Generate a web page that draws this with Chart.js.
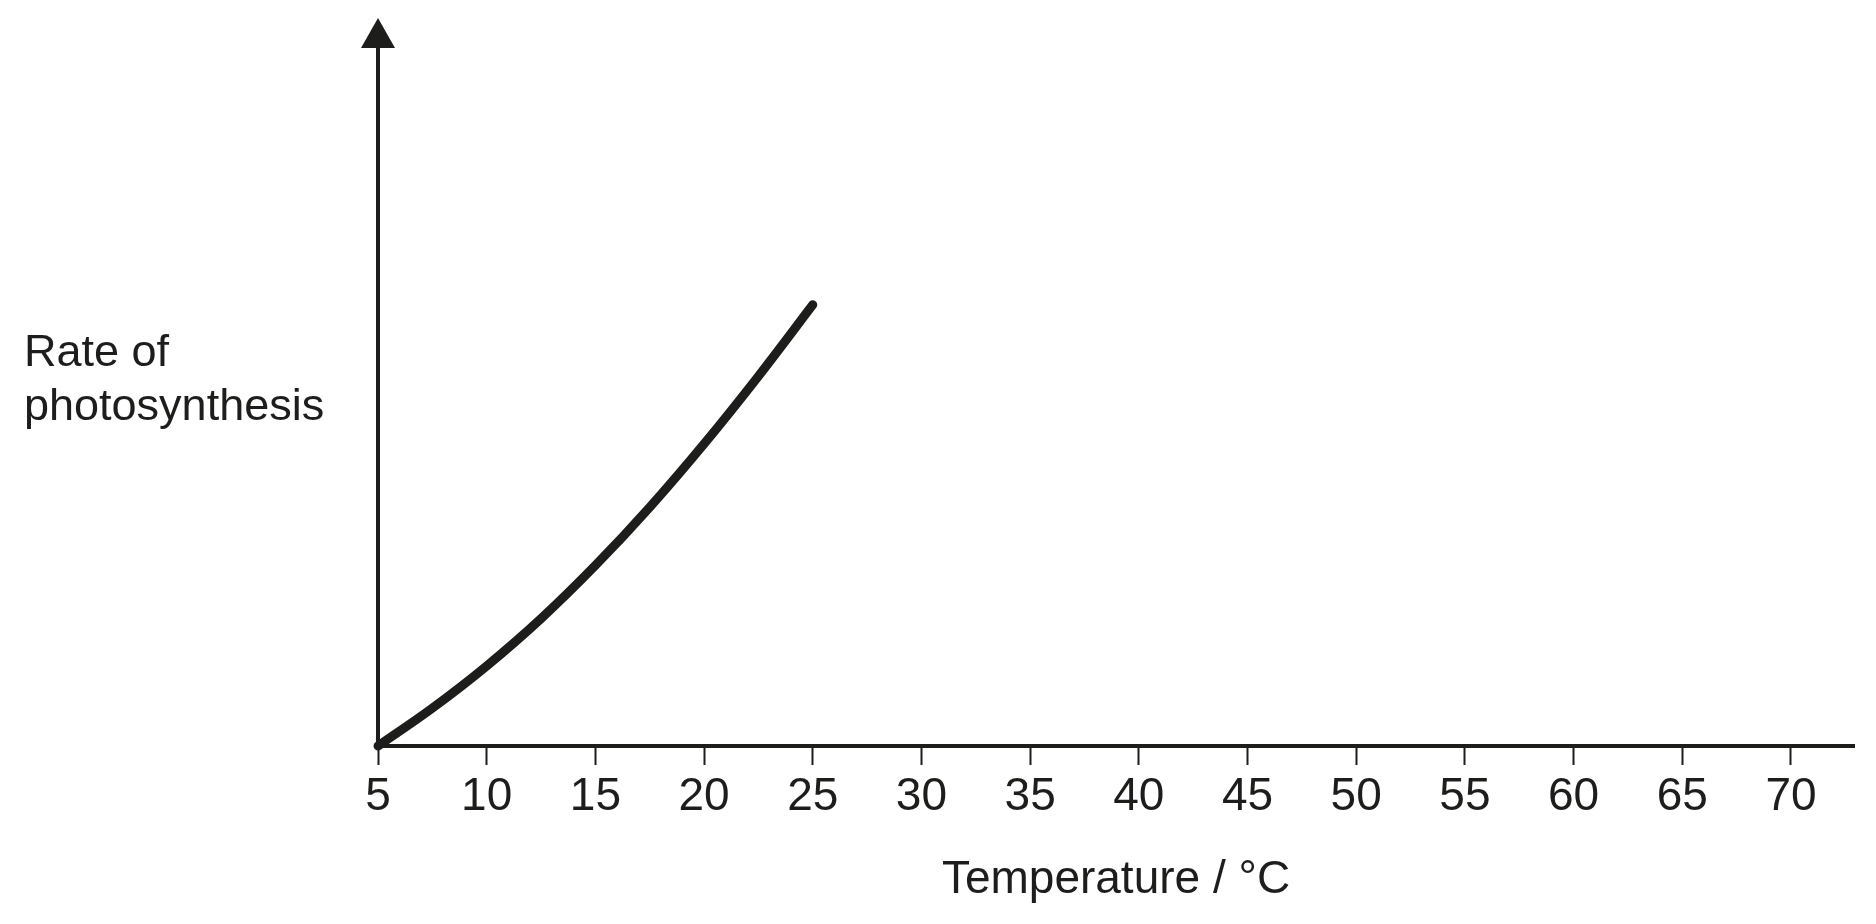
<!DOCTYPE html>
<html>
<head>
<meta charset="utf-8">
<script src="https://cdn.jsdelivr.net/npm/chart.js@4.4.1/dist/chart.umd.min.js"></script>
<style>
  html, body { margin: 0; padding: 0; background: #fff; }
  #wrap { width: 1876px; height: 924px; }
</style>
</head>
<body>
<div id="wrap"><canvas id="chart"></canvas></div>
<script>
// data
const temperatures = [5, 7.5, 10, 12.5, 15, 17.5, 20, 22.5, 25];
const rates = [0, 5.2, 11.0, 17.5, 24.8, 32.8, 41.5, 50.8, 60.6];
const xTicks = [5, 10, 15, 20, 25, 30, 35, 40, 45, 50, 55, 60, 65, 70];
const yLabelLines = ["Rate of", "photosynthesis"];
const xTitle = "Temperature / °C";

const ink = "#1d1d1b";
const fontFamily = "'Liberation Sans', Arial, Helvetica, sans-serif";

// y axis line with arrow head, plus the two-line y label
const axisArrow = {
  id: "axisArrow",
  afterDraw(chart) {
    const { ctx, chartArea } = chart;
    const x = chartArea.left;
    ctx.save();
    ctx.strokeStyle = ink;
    ctx.lineWidth = 4;
    ctx.beginPath();
    ctx.moveTo(x, chartArea.bottom + 2);
    ctx.lineTo(x, chartArea.top + 30);
    ctx.stroke();

    ctx.fillStyle = ink;
    ctx.beginPath();
    ctx.moveTo(x, chartArea.top);
    ctx.lineTo(x - 17, chartArea.top + 30);
    ctx.lineTo(x + 17, chartArea.top + 30);
    ctx.closePath();
    ctx.fill();

    ctx.font = `45px ${fontFamily}`;
    ctx.textAlign = "left";
    ctx.textBaseline = "alphabetic";
    yLabelLines.forEach((t, i) => ctx.fillText(t, 24, 366 + i * 54));
    ctx.restore();
  }
};

new Chart(document.getElementById("chart"), {
  type: "line",
  data: {
    datasets: [{
      data: temperatures.map((t, i) => ({ x: t, y: rates[i] })),
      borderColor: ink,
      borderWidth: 9,
      pointRadius: 0,
      cubicInterpolationMode: "monotone",
      borderCapStyle: "round",
      borderJoinStyle: "round",
      clip: false
    }]
  },
  options: {
    responsive: true,
    maintainAspectRatio: false,
    animation: false,
    layout: { padding: { left: 378, right: 22, top: 18, bottom: 0 } },
    plugins: { legend: { display: false }, tooltip: { enabled: false } },
    scales: {
      x: {
        type: "linear",
        min: 5,
        max: 72.9,
        afterBuildTicks: s => { s.ticks = xTicks.map(v => ({ value: v })); },
        afterFit: s => { s.height = 178; },
        border: { display: true, color: ink, width: 4 },
        grid: {
          display: true,
          drawOnChartArea: false,
          drawTicks: true,
          tickLength: 19,
          tickWidth: 2,
          tickColor: ink
        },
        ticks: {
          color: ink,
          font: { family: fontFamily, size: 46 },
          padding: 5,
          maxRotation: 0,
          autoSkip: false
        },
        title: {
          display: true,
          text: xTitle,
          color: ink,
          font: { family: fontFamily, size: 46 },
          padding: { top: 0, bottom: 16 }
        }
      },
      y: {
        type: "linear",
        display: false,
        min: 0,
        max: 100
      }
    }
  },
  plugins: [axisArrow]
});
</script>
</body>
</html>
